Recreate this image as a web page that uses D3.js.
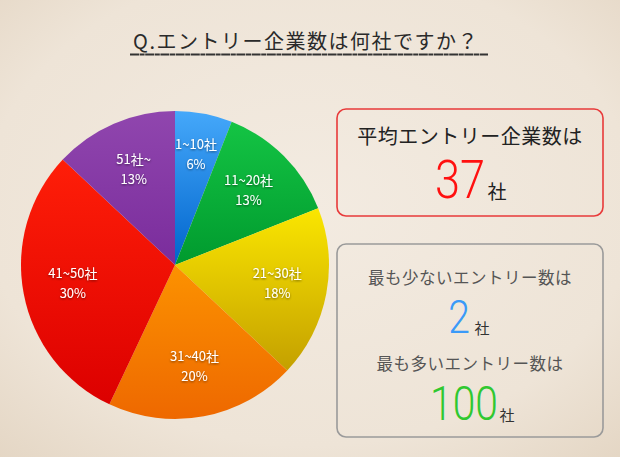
<!DOCTYPE html>
<html><head><meta charset="utf-8">
<script src="https://cdn.jsdelivr.net/npm/d3@7"></script>
<style>
html,body{margin:0;padding:0;background:#efe5d8;}
svg{display:block;}
text{font-family:"Noto Sans CJK JP","Noto Sans",sans-serif;}
text.num{font-family:Roboto,"Liberation Sans Narrow",sans-serif;font-weight:300;}
</style></head>
<body>
<svg id="c" width="620" height="457"></svg>
<script>
const categories = ["1~10社","11~20社","21~30社","31~40社","41~50社","51社~"];
const values = [6,13,18,20,30,13];
const colorsTop = ["#45a8fa","#14c444","#fae600","#fc9200","#ff1e08","#9046ae"];
const colorsBottom = ["#0064cc","#009a2e","#c4a000","#ee6800","#dc0000","#7a2c9c"];
const title = "Q.エントリー企業数は何社ですか？";
const avgLabel = "平均エントリー企業数は";
const avgValue = "37";
const minLabel = "最も少ないエントリー数は";
const minValue = "2";
const maxLabel = "最も多いエントリー数は";
const maxValue = "100";
const unit = "社";

const svg = d3.select("#c");
const defs = svg.append("defs");

const bg = defs.append("radialGradient").attr("id","bg").attr("cx","50%").attr("cy","45%").attr("r","75%");
bg.append("stop").attr("offset","0%").attr("stop-color","#f3ebe1");
bg.append("stop").attr("offset","70%").attr("stop-color","#eee4d7");
bg.append("stop").attr("offset","100%").attr("stop-color","#e4d6c4");
svg.append("rect").attr("width",620).attr("height",457).attr("fill","url(#bg)");

const f = defs.append("filter").attr("id","ts").attr("x","-20%").attr("y","-20%").attr("width","140%").attr("height","140%");
f.append("feDropShadow").attr("dx",0).attr("dy",1).attr("stdDeviation",0.8).attr("flood-color","#000").attr("flood-opacity",0.5);

// title
svg.append("text").attr("x",306).attr("y",49).attr("text-anchor","middle")
  .attr("font-size",20).attr("fill","#2a2a2a").attr("letter-spacing",1.5).text(title);
svg.append("line").attr("x1",130).attr("x2",488).attr("y1",54.5).attr("y2",54.5)
  .attr("stroke","#333").attr("stroke-width",2.2).attr("stroke-dasharray","9 0.6 5 0.6");

// pie
const cx = 175, cy = 265, R = 154;
const g = svg.append("g").attr("transform",`translate(${cx},${cy})`);
const pie = d3.pie().sort(null).value(d=>d)(values);
const arc = d3.arc().innerRadius(0).outerRadius(R);
const labelArc = d3.arc().innerRadius(104).outerRadius(104);
const labelArcFirst = d3.arc().innerRadius(112).outerRadius(112);

pie.forEach((d,i)=>{
  const lg = defs.append("linearGradient").attr("id","g"+i).attr("x1",0).attr("y1",0).attr("x2",0).attr("y2",1);
  lg.append("stop").attr("offset","0%").attr("stop-color",colorsTop[i]);
  lg.append("stop").attr("offset","100%").attr("stop-color",colorsBottom[i]);
});
g.selectAll("path.s").data(pie).join("path").attr("class","s")
  .attr("d",arc).attr("fill",(d,i)=>`url(#g${i})`);

const lab = g.selectAll("g.l").data(pie).join("g").attr("class","l")
  .attr("transform",(d,i)=>{
    const c = (i===0? labelArcFirst:labelArc).centroid(d);
    return `translate(${c[0]},${c[1]})`;
  });
lab.append("text").attr("y",-6).attr("text-anchor","middle").attr("font-size",13)
  .attr("fill","#fff").attr("filter","url(#ts)").text((d,i)=>categories[i]);
lab.append("text").attr("y",14).attr("text-anchor","middle").attr("font-size",13)
  .attr("fill","#fff").attr("filter","url(#ts)").text(d=>d.data+"%");

// boxes
svg.append("rect").attr("x",337).attr("y",109).attr("width",266).attr("height",107).attr("rx",9)
  .attr("fill","none").attr("stroke","#e83a3a").attr("stroke-width",1.6);
svg.append("rect").attr("x",337).attr("y",244).attr("width",266).attr("height",193).attr("rx",9)
  .attr("fill","none").attr("stroke","#9a9a9a").attr("stroke-width",1.6);

svg.append("text").attr("x",470).attr("y",144).attr("text-anchor","middle").attr("font-size",20)
  .attr("fill","#222").attr("letter-spacing",0.5).text(avgLabel);
const num = (x,y,size,color,txt,ux,uy,usize,ucolor)=>{
  svg.append("g").attr("transform",`translate(${x},${y}) scale(0.85,1)`)
    .append("text").attr("class","num").attr("x",0).attr("y",0).attr("text-anchor","middle")
    .attr("font-size",size).attr("fill",color).text(txt);
  svg.append("text").attr("x",ux).attr("y",uy).attr("text-anchor","middle").attr("font-size",usize)
    .attr("fill",ucolor).text(unit);
};
num(460,198,53,"#ff1010",avgValue,497,199,19,"#222");

svg.append("text").attr("x",470).attr("y",284).attr("text-anchor","middle").attr("font-size",16.5)
  .attr("fill","#555").attr("letter-spacing",0.5).text(minLabel);
num(459,333,46,"#3a9af8",minValue,482,334,15,"#333");
svg.append("text").attr("x",470).attr("y",370).attr("text-anchor","middle").attr("font-size",16.5)
  .attr("fill","#555").attr("letter-spacing",0.5).text(maxLabel);
num(464,420,48,"#30c830",maxValue,507,421,15,"#333");
</script>
</body></html>
